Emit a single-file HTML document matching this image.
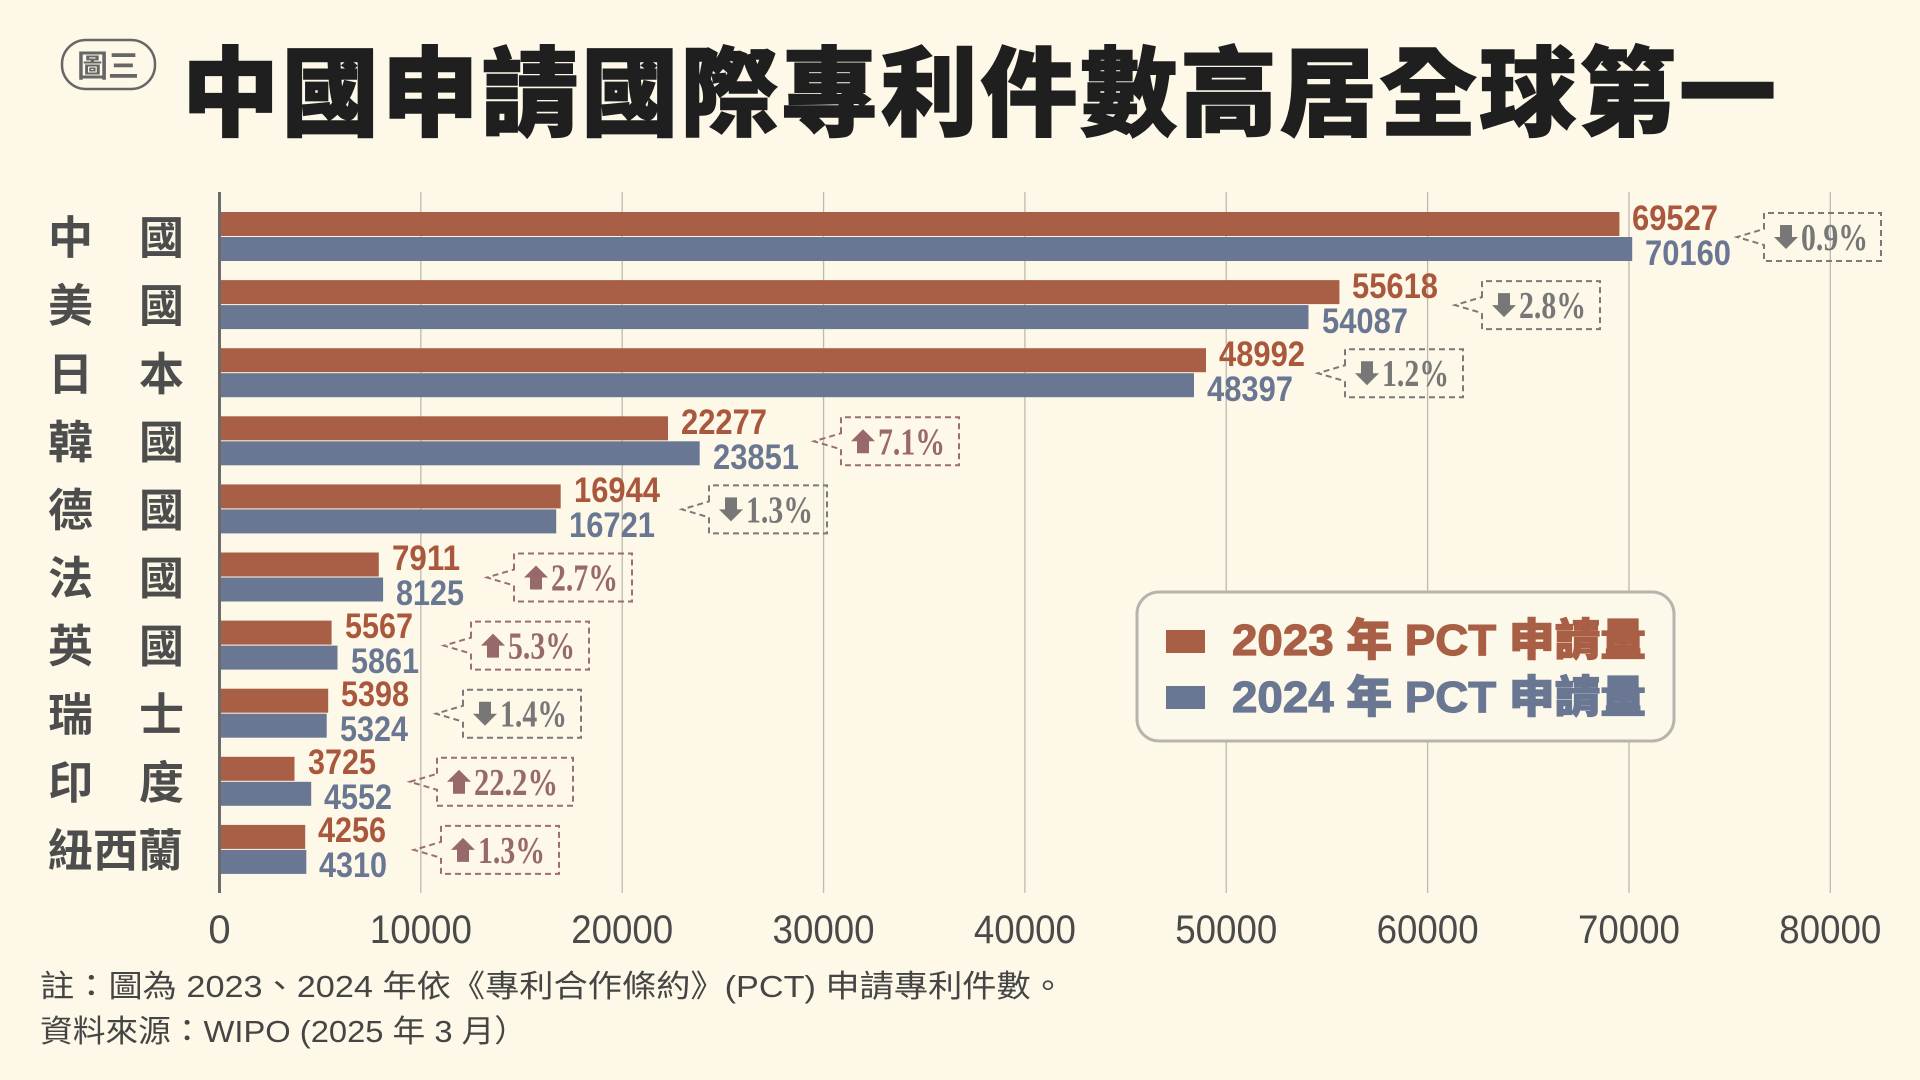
<!DOCTYPE html>
<html>
<head>
<meta charset="utf-8">
<style>
html,body{margin:0;padding:0;background:#fdf8e7;}
svg{display:block;}
.cjk{font-family:"Liberation Sans","Noto Sans CJK TC","Noto Sans CJK SC",sans-serif;}
.num{font-family:"Liberation Sans",sans-serif;font-weight:700;font-size:35px;}
.pct{font-family:"Liberation Serif",serif;font-weight:700;font-size:38px;}
</style>
</head>
<body>
<svg width="1920" height="1080" viewBox="0 0 1920 1080" xmlns="http://www.w3.org/2000/svg">
<rect x="0" y="0" width="1920" height="1080" fill="#fdf8e7"/>

<!-- badge -->
<rect x="62" y="40" width="93" height="49" rx="24" ry="24" fill="none" stroke="#666" stroke-width="2.5"/>
<text x="108" y="77" text-anchor="middle" class="cjk" font-size="31" font-weight="700" fill="#666">圖三</text>

<!-- title -->
<text x="182" y="128" class="cjk" font-size="97" font-weight="900" fill="#1f1f1f" stroke="#1f1f1f" stroke-width="1.5" textLength="1594" lengthAdjust="spacing">中國申請國際專利件數高居全球第一</text>

<!-- gridlines -->
<g stroke="#bdbab0" stroke-width="1.3">
<line x1="420.85" y1="192" x2="420.85" y2="893"/>
<line x1="622.2" y1="192" x2="622.2" y2="893"/>
<line x1="823.55" y1="192" x2="823.55" y2="893"/>
<line x1="1024.9" y1="192" x2="1024.9" y2="893"/>
<line x1="1226.25" y1="192" x2="1226.25" y2="893"/>
<line x1="1427.6" y1="192" x2="1427.6" y2="893"/>
<line x1="1628.95" y1="192" x2="1628.95" y2="893"/>
<line x1="1830.3" y1="192" x2="1830.3" y2="893"/>
</g>

<!-- bars -->
<g>
<rect x="219.5" y="212" width="1399.9" height="24" fill="#a95f45"/>
<rect x="219.5" y="237" width="1412.7" height="24" fill="#6a7793"/>
<rect x="219.5" y="280.1" width="1119.9" height="24" fill="#a95f45"/>
<rect x="219.5" y="305.1" width="1089.0" height="24" fill="#6a7793"/>
<rect x="219.5" y="348.2" width="986.5" height="24" fill="#a95f45"/>
<rect x="219.5" y="373.2" width="974.5" height="24" fill="#6a7793"/>
<rect x="219.5" y="416.3" width="448.5" height="24" fill="#a95f45"/>
<rect x="219.5" y="441.3" width="480.2" height="24" fill="#6a7793"/>
<rect x="219.5" y="484.4" width="341.2" height="24" fill="#a95f45"/>
<rect x="219.5" y="509.4" width="336.7" height="24" fill="#6a7793"/>
<rect x="219.5" y="552.5" width="159.3" height="24" fill="#a95f45"/>
<rect x="219.5" y="577.5" width="163.6" height="24" fill="#6a7793"/>
<rect x="219.5" y="620.6" width="112.1" height="24" fill="#a95f45"/>
<rect x="219.5" y="645.6" width="118.0" height="24" fill="#6a7793"/>
<rect x="219.5" y="688.7" width="108.7" height="24" fill="#a95f45"/>
<rect x="219.5" y="713.7" width="107.2" height="24" fill="#6a7793"/>
<rect x="219.5" y="756.8" width="75.0" height="24" fill="#a95f45"/>
<rect x="219.5" y="781.8" width="91.7" height="24" fill="#6a7793"/>
<rect x="219.5" y="824.9" width="85.7" height="24" fill="#a95f45"/>
<rect x="219.5" y="849.9" width="86.8" height="24" fill="#6a7793"/>
</g>

<!-- y axis -->
<line x1="219.5" y1="192" x2="219.5" y2="893" stroke="#6b6b6b" stroke-width="3"/>

<!-- value labels -->
<g class="num">
<text x="1632" y="230" fill="#a9583d" textLength="86" lengthAdjust="spacingAndGlyphs">69527</text>
<text x="1645" y="265" fill="#6a7793" textLength="86" lengthAdjust="spacingAndGlyphs">70160</text>
<text x="1352" y="298" fill="#a9583d" textLength="86" lengthAdjust="spacingAndGlyphs">55618</text>
<text x="1322" y="333" fill="#6a7793" textLength="86" lengthAdjust="spacingAndGlyphs">54087</text>
<text x="1219" y="366" fill="#a9583d" textLength="86" lengthAdjust="spacingAndGlyphs">48992</text>
<text x="1207" y="401" fill="#6a7793" textLength="86" lengthAdjust="spacingAndGlyphs">48397</text>
<text x="681" y="434" fill="#a9583d" textLength="86" lengthAdjust="spacingAndGlyphs">22277</text>
<text x="713" y="469" fill="#6a7793" textLength="86" lengthAdjust="spacingAndGlyphs">23851</text>
<text x="574" y="502" fill="#a9583d" textLength="86" lengthAdjust="spacingAndGlyphs">16944</text>
<text x="569" y="537" fill="#6a7793" textLength="86" lengthAdjust="spacingAndGlyphs">16721</text>
<text x="392" y="570" fill="#a9583d" textLength="68" lengthAdjust="spacingAndGlyphs">7911</text>
<text x="396" y="605" fill="#6a7793" textLength="68" lengthAdjust="spacingAndGlyphs">8125</text>
<text x="345" y="638" fill="#a9583d" textLength="68" lengthAdjust="spacingAndGlyphs">5567</text>
<text x="351" y="673" fill="#6a7793" textLength="68" lengthAdjust="spacingAndGlyphs">5861</text>
<text x="341" y="706" fill="#a9583d" textLength="68" lengthAdjust="spacingAndGlyphs">5398</text>
<text x="340" y="741" fill="#6a7793" textLength="68" lengthAdjust="spacingAndGlyphs">5324</text>
<text x="308" y="774" fill="#a9583d" textLength="68" lengthAdjust="spacingAndGlyphs">3725</text>
<text x="324" y="809" fill="#6a7793" textLength="68" lengthAdjust="spacingAndGlyphs">4552</text>
<text x="318" y="842" fill="#a9583d" textLength="68" lengthAdjust="spacingAndGlyphs">4256</text>
<text x="319" y="877" fill="#6a7793" textLength="68" lengthAdjust="spacingAndGlyphs">4310</text>
</g>

<!-- change boxes -->
<g fill="none" stroke-width="2" stroke-dasharray="6 4">
<path d="M1764 229 V213 H1881 V261 H1764 V245 L1737 237 Z" stroke="#7a7a7a"/>
<path d="M1482 297.1 V281.1 H1600 V329.1 H1482 V313.1 L1455 305.1 Z" stroke="#7a7a7a"/>
<path d="M1345 365.2 V349.2 H1463 V397.2 H1345 V381.2 L1318 373.2 Z" stroke="#7a7a7a"/>
<path d="M841 433.3 V417.3 H959 V465.3 H841 V449.3 L814 441.3 Z" stroke="#9b6f70"/>
<path d="M709 501.4 V485.4 H827 V533.4 H709 V517.4 L682 509.4 Z" stroke="#7a7a7a"/>
<path d="M514 569.5 V553.5 H632 V601.5 H514 V585.5 L487 577.5 Z" stroke="#9b6f70"/>
<path d="M471 637.6 V621.6 H589 V669.6 H471 V653.6 L444 645.6 Z" stroke="#9b6f70"/>
<path d="M463 705.7 V689.7 H581 V737.7 H463 V721.7 L436 713.7 Z" stroke="#7a7a7a"/>
<path d="M437 773.8 V757.8 H573 V805.8 H437 V789.8 L410 781.8 Z" stroke="#9b6f70"/>
<path d="M441 841.9 V825.9 H559 V873.9 H441 V857.9 L414 849.9 Z" stroke="#9b6f70"/>
</g>

<!-- arrows -->
<g>
<polygon fill="#777" points="1780,225 1792,225 1792,237 1798,237 1786,249 1774,237 1780,237"/>
<polygon fill="#777" points="1498,293.1 1510,293.1 1510,305.1 1516,305.1 1504,317.1 1492,305.1 1498,305.1"/>
<polygon fill="#777" points="1361,361.2 1373,361.2 1373,373.2 1379,373.2 1367,385.2 1355,373.2 1361,373.2"/>
<polygon fill="#777" points="725,497.4 737,497.4 737,509.4 743,509.4 731,521.4 719,509.4 725,509.4"/>
<polygon fill="#777" points="479,701.7 491,701.7 491,713.7 497,713.7 485,725.7 473,713.7 479,713.7"/>
<polygon fill="#98696b" points="863,429.3 875,441.3 869,441.3 869,453.3 857,453.3 857,441.3 851,441.3"/>
<polygon fill="#98696b" points="536,565.5 548,577.5 542,577.5 542,589.5 530,589.5 530,577.5 524,577.5"/>
<polygon fill="#98696b" points="493,633.6 505,645.6 499,645.6 499,657.6 487,657.6 487,645.6 481,645.6"/>
<polygon fill="#98696b" points="459,769.8 471,781.8 465,781.8 465,793.8 453,793.8 453,781.8 447,781.8"/>
<polygon fill="#98696b" points="463,837.9 475,849.9 469,849.9 469,861.9 457,861.9 457,849.9 451,849.9"/>
</g>

<!-- percent texts -->
<g class="pct">
<text x="1801" y="250" fill="#777" textLength="67" lengthAdjust="spacingAndGlyphs">0.9%</text>
<text x="1519" y="318.1" fill="#777" textLength="67" lengthAdjust="spacingAndGlyphs">2.8%</text>
<text x="1382" y="386.2" fill="#777" textLength="67" lengthAdjust="spacingAndGlyphs">1.2%</text>
<text x="878" y="454.3" fill="#98696b" textLength="67" lengthAdjust="spacingAndGlyphs">7.1%</text>
<text x="746" y="522.4" fill="#777" textLength="67" lengthAdjust="spacingAndGlyphs">1.3%</text>
<text x="551" y="590.5" fill="#98696b" textLength="67" lengthAdjust="spacingAndGlyphs">2.7%</text>
<text x="508" y="658.6" fill="#98696b" textLength="67" lengthAdjust="spacingAndGlyphs">5.3%</text>
<text x="500" y="726.7" fill="#777" textLength="67" lengthAdjust="spacingAndGlyphs">1.4%</text>
<text x="474" y="794.8" fill="#98696b" textLength="84" lengthAdjust="spacingAndGlyphs">22.2%</text>
<text x="478" y="862.9" fill="#98696b" textLength="67" lengthAdjust="spacingAndGlyphs">1.3%</text>
</g>

<!-- y labels -->
<g class="cjk" font-size="45" font-weight="700" fill="#4d4d4d">
<text x="48" y="253.6">中</text><text x="139" y="253.6">國</text>
<text x="48" y="321.7">美</text><text x="139" y="321.7">國</text>
<text x="48" y="389.8">日</text><text x="139" y="389.8">本</text>
<text x="48" y="457.9">韓</text><text x="139" y="457.9">國</text>
<text x="48" y="526">德</text><text x="139" y="526">國</text>
<text x="48" y="594.1">法</text><text x="139" y="594.1">國</text>
<text x="48" y="662.2">英</text><text x="139" y="662.2">國</text>
<text x="48" y="730.3">瑞</text><text x="139" y="730.3">士</text>
<text x="48" y="798.4">印</text><text x="139" y="798.4">度</text>
<text x="48" y="866.5">紐</text><text x="93" y="866.5">西</text><text x="138" y="866.5">蘭</text>
</g>

<!-- x tick labels -->
<g font-family="Liberation Sans, sans-serif" font-size="40" fill="#4a4a4a" text-anchor="middle">
<text x="219.5" y="943">0</text>
<text x="420.85" y="943" textLength="102" lengthAdjust="spacingAndGlyphs">10000</text>
<text x="622.2" y="943" textLength="102" lengthAdjust="spacingAndGlyphs">20000</text>
<text x="823.55" y="943" textLength="102" lengthAdjust="spacingAndGlyphs">30000</text>
<text x="1024.9" y="943" textLength="102" lengthAdjust="spacingAndGlyphs">40000</text>
<text x="1226.25" y="943" textLength="102" lengthAdjust="spacingAndGlyphs">50000</text>
<text x="1427.6" y="943" textLength="102" lengthAdjust="spacingAndGlyphs">60000</text>
<text x="1628.95" y="943" textLength="102" lengthAdjust="spacingAndGlyphs">70000</text>
<text x="1830.3" y="943" textLength="102" lengthAdjust="spacingAndGlyphs">80000</text>
</g>

<!-- legend -->
<rect x="1137" y="592" width="537" height="149" rx="22" ry="22" fill="#fdf9ea" stroke="#b6b4ac" stroke-width="3"/>
<rect x="1166" y="630" width="39" height="23" fill="#a95f45"/>
<rect x="1166" y="686" width="39" height="23" fill="#6a7793"/>
<text x="1232" y="655" class="cjk" font-size="44" font-weight="900" fill="#a95f45" stroke="#a95f45" stroke-width="1.2" textLength="414" lengthAdjust="spacingAndGlyphs">2023 年 PCT 申請量</text>
<text x="1232" y="712" class="cjk" font-size="44" font-weight="900" fill="#6a7793" stroke="#6a7793" stroke-width="1.2" textLength="414" lengthAdjust="spacingAndGlyphs">2024 年 PCT 申請量</text>

<!-- footnotes -->
<text x="40" y="997" class="cjk" font-size="31" fill="#454545" textLength="1025" lengthAdjust="spacingAndGlyphs">註：圖為 2023、2024 年依《專利合作條約》(PCT) 申請專利件數。</text>
<text x="40" y="1042" class="cjk" font-size="31" fill="#454545" textLength="487" lengthAdjust="spacingAndGlyphs">資料來源：WIPO (2025 年 3 月）</text>
</svg>
</body>
</html>
